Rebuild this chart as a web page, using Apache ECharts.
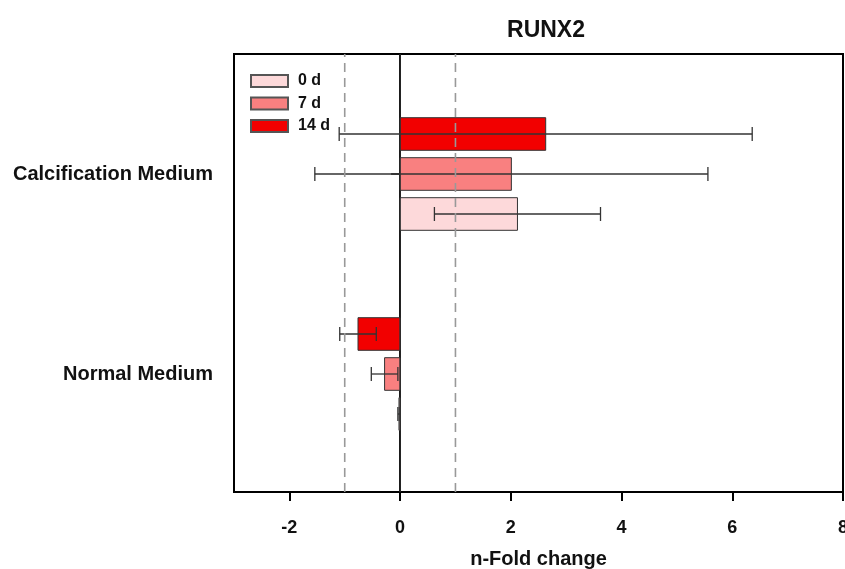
<!DOCTYPE html>
<html>
<head>
<meta charset="utf-8">
<script src="https://cdn.jsdelivr.net/npm/echarts@6/dist/echarts.min.js"></script>
<style>
  html, body { margin: 0; padding: 0; background: #fff; }
  #chart { width: 845px; height: 569px; }
</style>
</head>
<body>
<div id="chart"></div>
<script>
// Groups on the vertical axis, bottom to top
const categories = ['Normal Medium', 'Calcification Medium'];
// Time points (legend entries)
const timepoints = ['0 d', '7 d', '14 d'];
// Mean n-fold change per group (Normal, Calcification) for each time point
const values0d = [-0.02, 2.12];
const values7d = [-0.28, 2.01];
const values14d = [-0.76, 2.63];
// Error half-widths
const errors0d = [0.02, 1.50];
const errors7d = [0.24, 3.55];
const errors14d = [0.33, 3.73];
// Axis ticks and reference lines
const xTicks = [-2, 0, 2, 4, 6, 8];
const refLines = [-1, 0, 1];

const colors = ['#FDD9DA', '#F98080', '#F20000'];
const offsets = [-0.2, 0, 0.2];      // bar offsets within a group (y units)
const BAR_H = 0.163;                 // bar thickness (y units)
const CAP = 7;                       // error cap half-height (px)
const Y_MIN = 0.41, Y_MAX = 2.6;
const FONT = 'Liberation Sans, Arial, sans-serif';

const valueSets = [values0d, values7d, values14d];
const errorSets = [errors0d, errors7d, errors14d];

function barRenderer(offset, color) {
  return function (params, api) {
    const v = api.value(0);
    const y = api.value(1) + offset;
    const e = api.value(2);
    const a = api.coord([0, y + BAR_H / 2]);
    const b = api.coord([v, y - BAR_H / 2]);
    const left = api.coord([v - e, y]);
    const right = api.coord([v + e, y]);
    const ebStyle = { stroke: '#333', lineWidth: 1.3 };
    return {
      type: 'group',
      children: [
        {
          type: 'rect',
          shape: {
            x: Math.min(a[0], b[0]), y: Math.min(a[1], b[1]),
            width: Math.abs(b[0] - a[0]), height: Math.abs(b[1] - a[1])
          },
          style: { fill: color, stroke: '#333', lineWidth: 1 }
        },
        { type: 'line', shape: { x1: left[0], y1: left[1], x2: right[0], y2: right[1] }, style: ebStyle },
        { type: 'line', shape: { x1: left[0], y1: left[1] - CAP, x2: left[0], y2: left[1] + CAP }, style: ebStyle },
        { type: 'line', shape: { x1: right[0], y1: right[1] - CAP, x2: right[0], y2: right[1] + CAP }, style: ebStyle }
      ]
    };
  };
}

const barSeries = timepoints.map((name, i) => ({
  name: name,
  type: 'custom',
  renderItem: barRenderer(offsets[i], colors[i]),
  itemStyle: { color: colors[i], borderColor: '#555', borderWidth: 1.5 },
  encode: { x: 0, y: 1 },
  data: categories.map((c, k) => [valueSets[i][k], k + 1, errorSets[i][k]]),
  z: 2
}));

const refSeries = {
  name: 'ref',
  type: 'custom',
  silent: true,
  z: 3,
  renderItem: function (params, api) {
    const x = api.value(0);
    const p0 = api.coord([x, Y_MIN]);
    const p1 = api.coord([x, Y_MAX]);
    const solid = x === 0;
    return {
      type: 'line',
      shape: { x1: p0[0], y1: p0[1], x2: p1[0], y2: p1[1] },
      style: solid
        ? { stroke: '#333', lineWidth: 1.2 }
        : { stroke: '#999', lineWidth: 1.6, lineDash: [9, 6] }
    };
  },
  encode: { x: 0 },
  data: refLines.map(v => [v])
};

const chart = echarts.init(document.getElementById('chart'), null, { renderer: 'canvas' });
chart.setOption({
  animation: false,
  backgroundColor: '#fff',
  title: {
    text: 'RUNX2',
    left: 541,
    top: 14,
    textAlign: 'center',
    textStyle: { fontFamily: FONT, fontSize: 23, fontWeight: 'bold', color: '#111' }
  },
  legend: {
    data: timepoints,
    orient: 'vertical',
    left: 245,
    top: 68,
    itemWidth: 37,
    itemHeight: 12,
    itemGap: 6.5,
    icon: 'rect',
    textStyle: { fontFamily: FONT, fontSize: 16, fontWeight: 'bold', color: '#111', padding: [0, 0, 0, 5] }
  },
  grid: {
    left: 234, right: 2, top: 54, bottom: 77,
    outerBoundsMode: 'none',
    containLabel: false,
    show: true, borderColor: '#000', borderWidth: 2, backgroundColor: 'transparent'
  },
  xAxis: {
    type: 'value',
    min: -3, max: 8,
    name: 'n-Fold change',
    nameLocation: 'middle',
    nameGap: 57,
    nameTextStyle: { fontFamily: FONT, fontSize: 20, fontWeight: 'bold', color: '#111' },
    axisLine: { show: true, lineStyle: { color: '#000', width: 2 } },
    axisTick: { show: true, customValues: xTicks, length: 9, lineStyle: { color: '#000', width: 2 } },
    axisLabel: { customValues: xTicks, margin: 27, fontFamily: FONT, fontSize: 18, fontWeight: 'bold', color: '#111' },
    splitLine: { show: false }
  },
  yAxis: {
    type: 'value',
    min: Y_MIN, max: Y_MAX,
    axisLine: { show: true, lineStyle: { color: '#000', width: 2 } },
    axisTick: { show: true, customValues: [1, 2], length: 9, lineStyle: { color: '#000', width: 1.5 } },
    axisLabel: {
      customValues: [1, 2],
      formatter: v => categories[Math.round(v) - 1],
      margin: 21,
      fontFamily: FONT, fontSize: 20, fontWeight: 'bold', color: '#111'
    },
    splitLine: { show: false }
  },
  series: barSeries.concat([refSeries])
});
</script>
</body>
</html>
